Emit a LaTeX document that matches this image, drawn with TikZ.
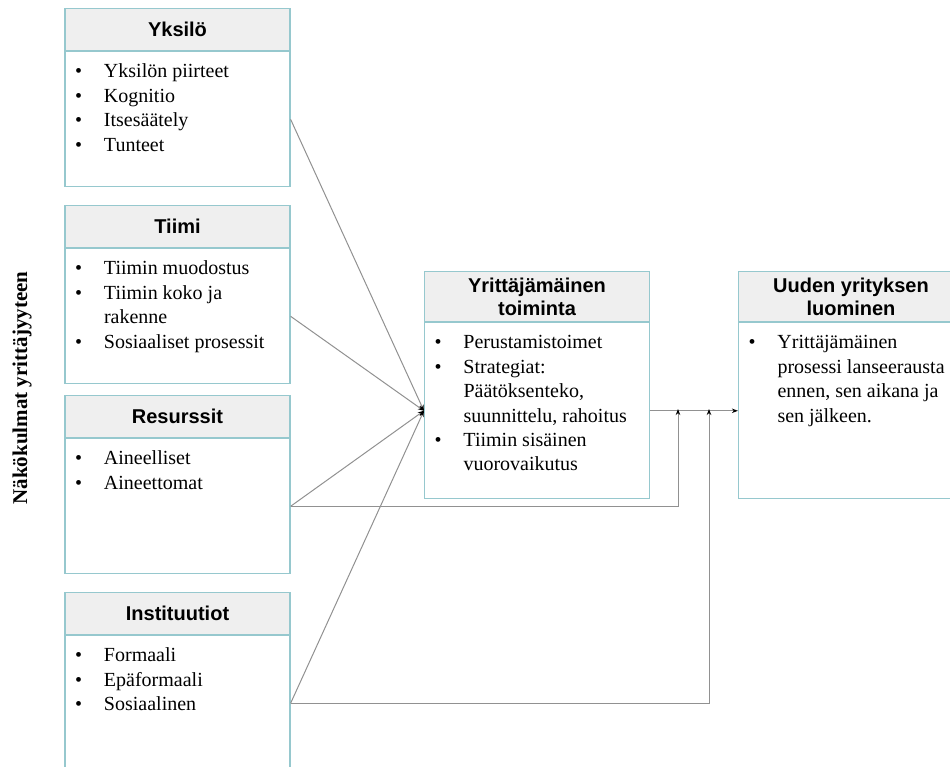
\documentclass[tikz,border=0pt]{standalone}
\usepackage{fontspec}
\setmainfont{Liberation Serif}
\newfontfamily\otsikkofont{Liberation Sans}
\usetikzlibrary{arrows.meta}

\definecolor{reuna}{RGB}{150,200,206}
\definecolor{otsikkotausta}{RGB}{239,239,239}
\definecolor{viiva}{RGB}{145,145,145}

% luettelon kohta ja laatikon runko
\newcommand{\kohta}[1]{\par\hangindent=29pt\hangafter=1\noindent\strut\makebox[29pt][l]{\textbullet}#1}
\newcommand{\lista}[2]{\parbox[c][#1][t]{225pt}{\leftskip=10pt\rightskip=0pt plus 1fil\fontsize{20}{24.4}\selectfont\vspace*{9pt}#2}}

\begin{document}
\begin{tikzpicture}[x=1pt, y=-1pt,
    otsikko/.style={draw=reuna, fill=otsikkotausta, line width=1.2pt, minimum width=225pt, minimum height=42pt, inner sep=0pt, font=\otsikkofont\bfseries\fontsize{20}{23}\selectfont, align=center, anchor=north},
    runko/.style={draw=reuna, fill=white, line width=1.2pt, inner sep=0pt, anchor=north},
    yhteys/.style={draw=viiva, line width=1pt, -{Stealth[length=6pt, width=4.5pt, color=black]}}]
                \useasboundingbox (0,0) rectangle (950,767);
                \clip (0,0) rectangle (950,767);

                % Näkökulmat
                \node[rotate=90, font=\bfseries\fontsize{21}{24}\selectfont] (nakokulmat) at (22,388) {Näkökulmat yrittäjyyteen};

                % Yksilö
                \node[otsikko] (yksilo) at (177.5,8) {Yksilö};
                \node[runko] (yksilo-runko) at (yksilo.south) {\lista{135pt}{\kohta{Yksilön piirteet}\kohta{Kognitio}\kohta{Itsesäätely}\kohta{Tunteet}}};

                % Tiimi
                \node[otsikko] (tiimi) at (177.5,205) {Tiimi};
                \node[runko] (tiimi-runko) at (tiimi.south) {\lista{135pt}{\kohta{Tiimin muodostus}\kohta{Tiimin koko ja\newline rakenne}\kohta{Sosiaaliset prosessit}}};

                % Resurssit
                \node[otsikko] (resurssit) at (177.5,395) {Resurssit};
                \node[runko] (resurssit-runko) at (resurssit.south) {\lista{135pt}{\kohta{Aineelliset}\kohta{Aineettomat}}};

                % Instituutiot
                \node[otsikko] (instituutiot) at (177.5,592) {Instituutiot};
                \node[runko] (instituutiot-runko) at (instituutiot.south) {\lista{135pt}{\kohta{Formaali}\kohta{Epäformaali}\kohta{Sosiaalinen}}};

                % Yrittäjämäinen toiminta
                \node[otsikko, minimum height=50pt] (toiminta) at (537,271) {Yrittäjämäinen\\toiminta};
                \node[runko] (toiminta-runko) at (toiminta.south) {\lista{176pt}{\kohta{Perustamistoimet}\kohta{Strategiat:\newline Päätöksenteko,\newline suunnittelu, rahoitus}\kohta{Tiimin sisäinen\newline vuorovaikutus}}};

                % Uuden yrityksen luominen
                \node[otsikko, minimum height=50pt] (luominen) at (851,271) {Uuden yrityksen\\luominen};
                \node[runko] (luominen-runko) at (luominen.south) {\lista{176pt}{\kohta{Yrittäjämäinen\newline prosessi lanseerausta\newline ennen, sen aikana ja\newline sen jälkeen.}}};

                % Yhteydet
                \draw[yhteys] (yksilo-runko.east) -- (toiminta-runko.west);
                \draw[yhteys] (tiimi-runko.east) -- (toiminta-runko.west);
                \draw[yhteys] (resurssit-runko.east) -- (toiminta-runko.west);
                \draw[yhteys] (instituutiot-runko.east) -- (toiminta-runko.west);
                \draw[yhteys] (toiminta-runko.east) -- (luominen-runko.west);

                % Suorat yhteydet
                \coordinate (liitos1) at (678,409);
                \coordinate (liitos2) at (709,409);
                \draw[yhteys] (resurssit-runko.east) -| (liitos1);
                \draw[yhteys] (instituutiot-runko.east) -| (liitos2);
            \end{tikzpicture}
\end{document}
